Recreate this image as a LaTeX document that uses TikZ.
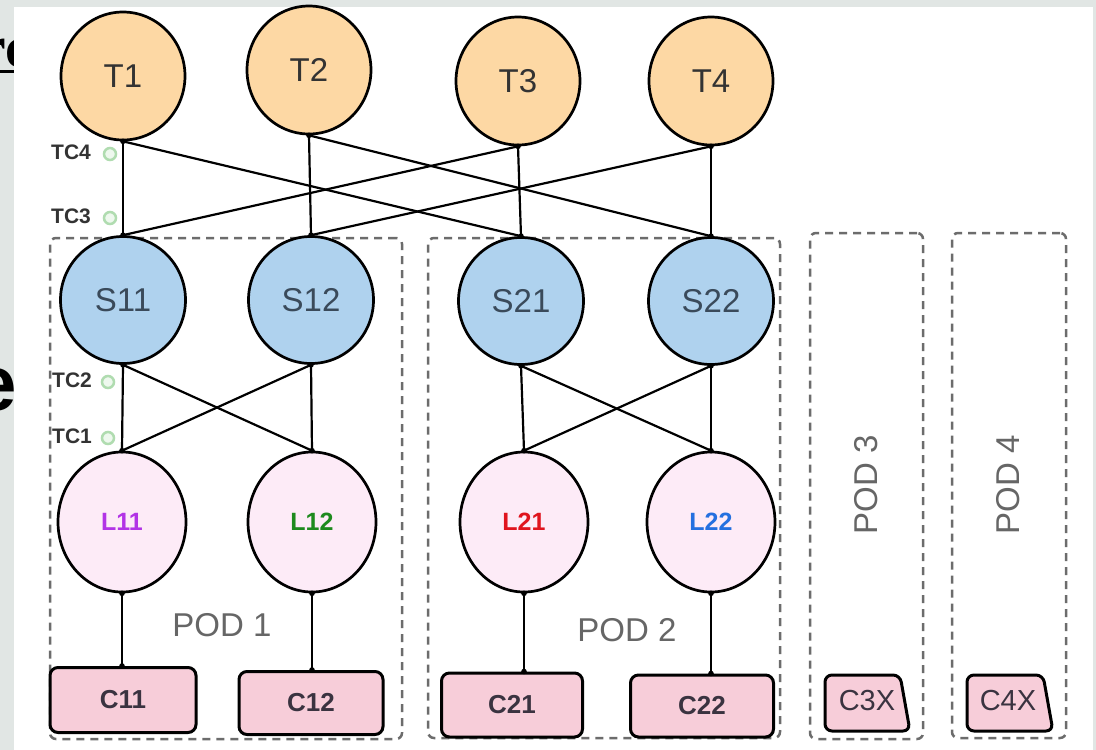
\documentclass[tikz,border=0pt]{standalone}
\usepackage{fontspec}
\setmainfont{Liberation Sans}
\newfontfamily\bgserif{Liberation Serif}
\usetikzlibrary{shapes.geometric}

\definecolor{pagegray}{HTML}{E1E6E4}
\definecolor{tfill}{HTML}{FDD8A4}
\definecolor{sfill}{HTML}{AFD2EE}
\definecolor{lfill}{HTML}{FDEBF7}
\definecolor{cfill}{HTML}{F7CDD9}
\definecolor{podline}{HTML}{6C6C6C}
\definecolor{podtext}{HTML}{666666}
\definecolor{tcring}{HTML}{B0DCB0}
\definecolor{tcfill}{HTML}{EEF8EE}
\definecolor{lpurple}{HTML}{B233E6}
\definecolor{lgreen}{HTML}{1E8A1E}
\definecolor{lred}{HTML}{E0141E}
\definecolor{lblue}{HTML}{2470E0}
\definecolor{nodetext}{HTML}{333333}
\definecolor{stext}{HTML}{3A4A5A}
\definecolor{ctext}{HTML}{3A3340}

\begin{document}
\begin{tikzpicture}[x=1pt,y=-1pt,
  tnode/.style={ellipse,draw=black,line width=2.7pt,fill=tfill,
    minimum width=124pt,minimum height=128pt,inner sep=0pt,
    text=nodetext,font=\fontsize{33}{33}\selectfont},
  snode/.style={ellipse,draw=black,line width=2.7pt,fill=sfill,
    minimum width=125pt,minimum height=127pt,inner sep=0pt,
    text=stext,font=\fontsize{33}{33}\selectfont},
  lnode/.style={ellipse,draw=black,line width=2.7pt,fill=lfill,
    minimum width=128pt,minimum height=140pt,inner sep=0pt,
    font=\fontsize{25}{25}\selectfont\bfseries},
  cnode/.style={rectangle,rounded corners=8pt,draw=black,line width=3pt,
    fill=cfill,inner sep=0pt,text=ctext,font=\fontsize{26}{26}\selectfont\bfseries},
  cshape/.style={draw=black,line width=3pt,fill=cfill,rounded corners=7pt},
  ctag/.style={text=ctext,font=\fontsize{29}{29}\selectfont},
  podbox/.style={rectangle,draw=podline,line width=2.5pt,rounded corners=6pt,
    dash pattern=on 8pt off 6pt,inner sep=0pt},
  podlabel/.style={text=podtext,font=\fontsize{33}{33}\selectfont},
  tclabel/.style={anchor=west,inner sep=0pt,text=nodetext,
    font=\fontsize{21}{21}\selectfont\bfseries},
  tcdot/.style={circle,draw=tcring,fill=tcfill,line width=2.5pt,minimum size=12pt,inner sep=0pt},
  link/.style={draw=black,line width=2.2pt},
  joint/.style={fill=black}
]
\useasboundingbox (0,0) rectangle (1096,750);

% page behind the panel
\fill[pagegray] (0,0) rectangle (1096,750);
\node[anchor=base east,inner sep=0pt,font=\bgserif\bfseries\fontsize{60}{60}\selectfont] (bgrc) at (32,67) {rc};
\draw[line width=3pt] (-10,71) -- (20,71);
\node[anchor=base east,inner sep=0pt,font=\bfseries\fontsize{78}{78}\selectfont] (bge) at (17,410) {e};

% white panel
\fill[white] (14,7) rectangle (1093,750);

% pods
\node[podbox,minimum width=352pt,minimum height=501pt] (pod1) at (226,488.5) {};
\node[podbox,minimum width=352pt,minimum height=500pt] (pod2) at (604,488) {};
\node[podbox,minimum width=113pt,minimum height=506pt] (pod3) at (866.5,486) {};
\node[podbox,minimum width=114pt,minimum height=505pt] (pod4) at (1009,485.5) {};

\node[podlabel] (pod1lbl) at (222,625) {POD 1};
\node[podlabel] (pod2lbl) at (627,630) {POD 2};
\node[podlabel,rotate=90] (pod3lbl) at (866,485) {POD 3};
\node[podlabel,rotate=90] (pod4lbl) at (1008,485) {POD 4};

% top tier
\node[tnode] (T1) at (123,76) {T1};
\node[tnode] (T2) at (309,70) {T2};
\node[tnode] (T3) at (518,81) {T3};
\node[tnode] (T4) at (711,81) {T4};

% spine tier
\node[snode] (S11) at (123,300) {S11};
\node[snode] (S12) at (311,300) {S12};
\node[snode] (S21) at (521,301) {S21};
\node[snode] (S22) at (711,301) {S22};

% leaf tier
\node[lnode,text=lpurple] (L11) at (122,522) {L11};
\node[lnode,text=lgreen]  (L12) at (312,522) {L12};
\node[lnode,text=lred]    (L21) at (524,522) {L21};
\node[lnode,text=lblue]   (L22) at (711,522) {L22};

% clients
\node[cnode,minimum width=146pt,minimum height=65pt] (C11) at (123,700) {C11};
\node[cnode,minimum width=144pt,minimum height=63pt] (C12) at (311,703) {C12};
\node[cnode,minimum width=141pt,minimum height=64pt] (C21) at (512,705) {C21};
\node[cnode,minimum width=143pt,minimum height=62pt] (C22) at (702,706) {C22};

\path[cshape] (825,675) -- (900,675) -- (910,731) -- (825,731) -- cycle;
\node[ctag] (C3X) at (867,701) {C3X};
\path[cshape] (967,675) -- (1043,675) -- (1053,731) -- (967,731) -- cycle;
\node[ctag] (C4X) at (1008,701) {C4X};

% tier counters
\node[tclabel] (TC4) at (51,152) {TC4};
\node[tcdot] (TC4dot) at (110,154) {};
\node[tclabel] (TC3) at (51,216) {TC3};
\node[tcdot] (TC3dot) at (110,218) {};
\node[tclabel] (TC2) at (52,380) {TC2};
\node[tcdot] (TC2dot) at (108,382) {};
\node[tclabel] (TC1) at (52,436) {TC1};
\node[tcdot] (TC1dot) at (108,438) {};

% top to spine
\draw[link] (T1.south) -- (S11.north);
\draw[link] (T1.south) -- (S21.north);
\draw[link] (T2.south) -- (S12.north);
\draw[link] (T2.south) -- (S22.north);
\draw[link] (T3.south) -- (S21.north);
\draw[link] (T3.south) -- (S11.north);
\draw[link] (T4.south) -- (S22.north);
\draw[link] (T4.south) -- (S12.north);

% spine to leaf
\draw[link] (S11.south) -- (L11.north);
\draw[link] (S11.south) -- (L12.north);
\draw[link] (S12.south) -- (L12.north);
\draw[link] (S12.south) -- (L11.north);
\draw[link] (S21.south) -- (L21.north);
\draw[link] (S21.south) -- (L22.north);
\draw[link] (S22.south) -- (L22.north);
\draw[link] (S22.south) -- (L21.north);

% leaf to client
\draw[link] (L11.south) -- (L11.south |- C11.north);
\draw[link] (L12.south) -- (L12.south |- C12.north);
\draw[link] (L21.south) -- (L21.south |- C21.north);
\draw[link] (L22.south) -- (L22.south |- C22.north);

% junction dots where links meet the nodes
\foreach \n in {T1,T2,T3,T4,S11,S12,S21,S22,L11,L12,L21,L22}
  \fill[joint] (\n.south) circle (2.8pt);
\foreach \n in {S11,S12,S21,S22,L11,L12,L21,L22}
  \fill[joint] (\n.north) circle (2.8pt);
\fill[joint] (L11.south |- C11.north) circle (2.8pt);
\fill[joint] (L12.south |- C12.north) circle (2.8pt);
\fill[joint] (L21.south |- C21.north) circle (2.8pt);
\fill[joint] (L22.south |- C22.north) circle (2.8pt);
\end{tikzpicture}
\end{document}
